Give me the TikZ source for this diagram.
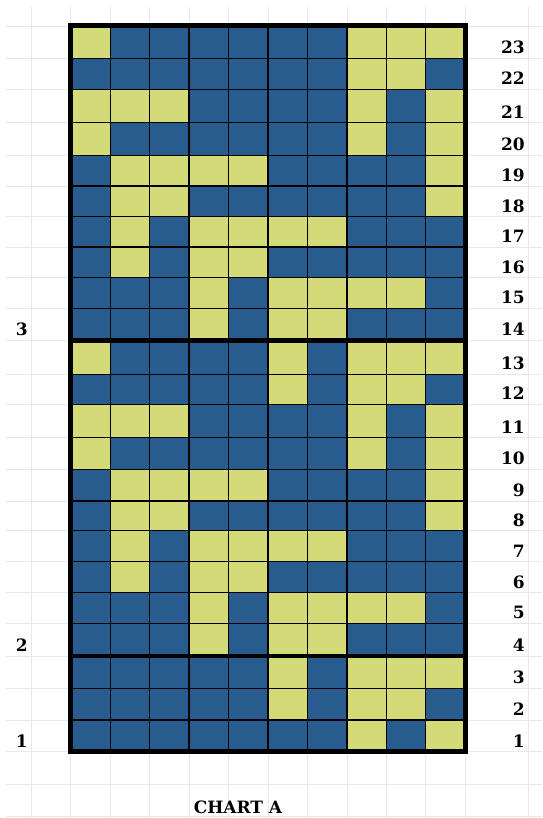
\documentclass[tikz,border=0pt]{standalone}
\usepackage{fontspec}
\setmainfont{DejaVu Serif}
\definecolor{col1}{RGB}{212,218,120}
\definecolor{col0}{RGB}{40,92,142}
\definecolor{gl}{RGB}{232,232,232}
\begin{document}
\begin{tikzpicture}[x=1pt,y=-1pt,
  lab/.style={font=\bfseries\fontsize{17}{17}\selectfont, inner sep=0pt},
  cellline/.style={black, line width=1.3pt},
  heavyline/.style={black, line width=4.5pt},
  bgline/.style={gl, line width=0.8pt}]
\useasboundingbox (0,0) rectangle (542,818);
\fill[white] (0,0) rectangle (542,818);
% background spreadsheet grid
\foreach \x in {31.7,70.8,110.2,149.7,189.1,228.6,268,307.4,346.9,386.3,425.8,465.2,528}
  \draw[bgline] (\x,7) -- (\x,818);
\foreach \y in {26,58.3,89.3,122.7,155.3,186,216.5,247,277.8,308.3,340.3,374.3,404.3,437.7,469.3,501,530.7,561.7,592.7,623.3,656,688.3,720,751.8,784.3,816}
  \draw[bgline] (6,\y) -- (542,\y);
% cells
\foreach \r/\yt/\yb/\pat in {
  23/26/58.3/{1,0,0,0,0,0,0,1,1,1},
  22/58.3/89.3/{0,0,0,0,0,0,0,1,1,0},
  21/89.3/122.7/{1,1,1,0,0,0,0,1,0,1},
  20/122.7/155.3/{1,0,0,0,0,0,0,1,0,1},
  19/155.3/186/{0,1,1,1,1,0,0,0,0,1},
  18/186/216.5/{0,1,1,0,0,0,0,0,0,1},
  17/216.5/247/{0,1,0,1,1,1,1,0,0,0},
  16/247/277.8/{0,1,0,1,1,0,0,0,0,0},
  15/277.8/308.3/{0,0,0,1,0,1,1,1,1,0},
  14/308.3/340.3/{0,0,0,1,0,1,1,0,0,0},
  13/340.3/374.3/{1,0,0,0,0,1,0,1,1,1},
  12/374.3/404.3/{0,0,0,0,0,1,0,1,1,0},
  11/404.3/437.7/{1,1,1,0,0,0,0,1,0,1},
  10/437.7/469.3/{1,0,0,0,0,0,0,1,0,1},
  9/469.3/501/{0,1,1,1,1,0,0,0,0,1},
  8/501/530.7/{0,1,1,0,0,0,0,0,0,1},
  7/530.7/561.7/{0,1,0,1,1,1,1,0,0,0},
  6/561.7/592.7/{0,1,0,1,1,0,0,0,0,0},
  5/592.7/623.3/{0,0,0,1,0,1,1,1,1,0},
  4/623.3/656/{0,0,0,1,0,1,1,0,0,0},
  3/656/688.3/{0,0,0,0,0,1,0,1,1,1},
  2/688.3/720/{0,0,0,0,0,1,0,1,1,0},
  1/720/751.8/{0,0,0,0,0,0,0,1,0,1}}
{
  \foreach \c [count=\i from 0] in \pat {
    \pgfmathsetmacro{\xl}{70.8+39.44*\i}
    \pgfmathsetmacro{\xr}{70.8+39.44*(\i+1)}
    \fill[col\c] (\xl,\yt) rectangle (\xr,\yb);
    \draw[cellline] (\xl,\yt) rectangle (\xr,\yb);
  }
  \node[lab, anchor=base east] (r\r) at (525,\yb-4.5) {\r};
}
% heavy separators and border
\draw[heavyline] (70.8,340.3) -- (465.2,340.3);
\draw[heavyline] (70.8,656) -- (465.2,656);
\draw[black, line width=5pt] (70.8,26) rectangle (465.2,751.8);
% left labels
\node[lab, anchor=base] (l3) at (21.7,335.8) {3};
\node[lab, anchor=base] (l2) at (21.7,651.5) {2};
\node[lab, anchor=base] (l1) at (21.7,747.3) {1};
% title
\node[lab, anchor=base] (title) at (238,813) {CHART A};
\end{tikzpicture}
\end{document}
